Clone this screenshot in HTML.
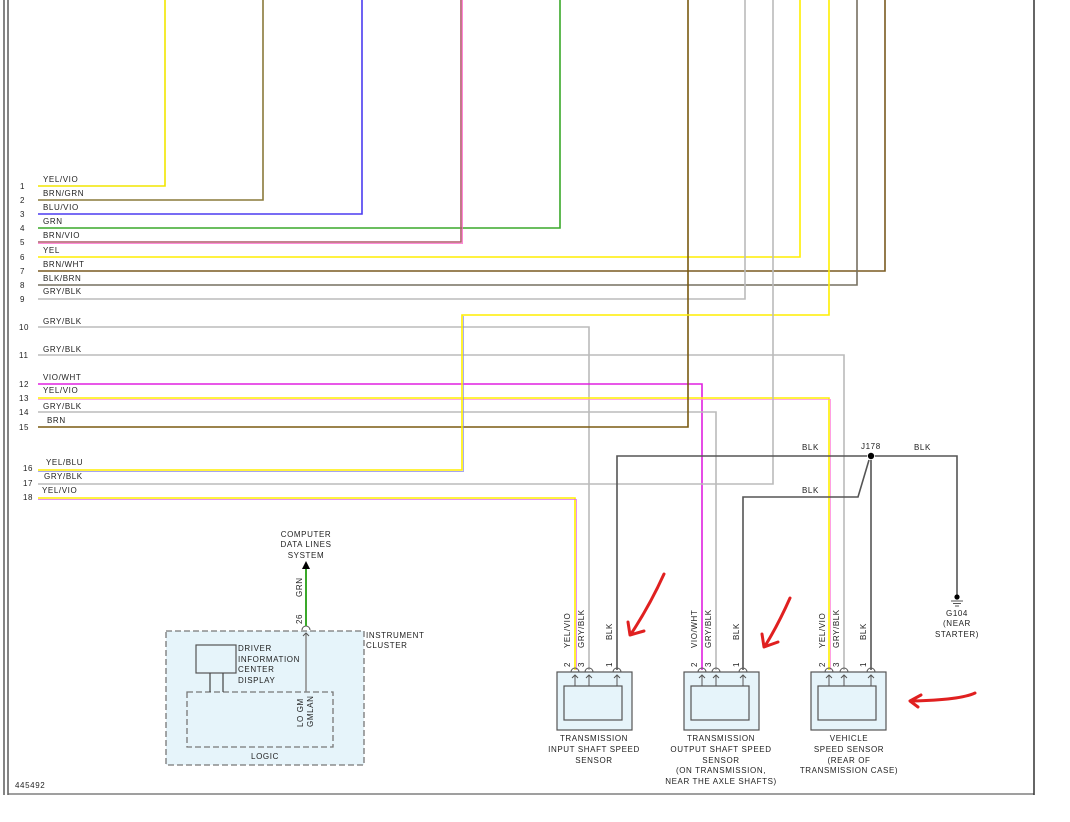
<!DOCTYPE html>
<html><head><meta charset="utf-8"><style>
html,body{margin:0;padding:0;background:#fff;}
svg{display:block;}
text{font-family:"Liberation Sans",sans-serif;font-size:8px;fill:#222;letter-spacing:0.6px;}
</style></head><body>
<svg width="1070" height="822" viewBox="0 0 1070 822" xmlns="http://www.w3.org/2000/svg">
<!-- borders -->
<line x1="4" y1="0" x2="4" y2="795" stroke="#333" stroke-width="1.2"/>
<line x1="8" y1="0" x2="8" y2="795" stroke="#333" stroke-width="1.2"/>
<line x1="8" y1="794" x2="1034" y2="794" stroke="#666" stroke-width="1.2"/>
<line x1="1034" y1="0" x2="1034" y2="795" stroke="#333" stroke-width="1.5"/>

<g fill="none" stroke-width="1.6">
<!-- 1 -->
<polyline points="38,186 165,186 165,0" stroke="#f2e600"/>
<!-- 2 -->
<polyline points="38,200 263,200 263,0" stroke="#8a7a3a"/>
<!-- 3 -->
<polyline points="38,214 362,214 362,0" stroke="#4b3cf0"/>
<!-- 4 -->
<polyline points="38,228 560,228 560,0" stroke="#3aa82a"/>
<!-- 5 -->
<polyline points="38,242 461,242 461,0" stroke="#b05a6a"/>
<polyline points="38,243.5 462.5,243.5 462.5,0" stroke="#ff66cc" stroke-width="0.8"/>
<!-- 6 -->
<polyline points="38,257 800,257 800,0" stroke="#ffee00"/>
<!-- 7 -->
<polyline points="38,271 885,271 885,0" stroke="#7a5a20"/>
<!-- 8 -->
<polyline points="38,285 857,285 857,0" stroke="#777060"/>
<!-- 9 -->
<polyline points="38,299 745,299 745,0" stroke="#bbbbbb"/>
<!-- 10 -->
<polyline points="38,327 589,327 589,670" stroke="#bbbbbb"/>
<!-- 11 -->
<polyline points="38,355 844,355 844,670" stroke="#bbbbbb"/>
<!-- 12 -->
<polyline points="38,384 702,384 702,670" stroke="#e020e0"/>
<!-- 13 -->
<polyline points="38,398 829,398 829,670" stroke="#ffee00"/>
<polyline points="38,399.5 830.5,399.5 830.5,670" stroke="#ff88dd" stroke-width="0.8"/>
<!-- 14 -->
<polyline points="38,412 716,412 716,670" stroke="#bbbbbb"/>
<!-- 15 -->
<polyline points="38,427 688,427 688,0" stroke="#7a5a10"/>
<!-- 16 -->
<polyline points="38,470 462,470 462,315 829,315 829,0" stroke="#ffee00"/>
<polyline points="38,471.5 463.5,471.5 463.5,316" stroke="#8888ee" stroke-width="0.7"/>
<!-- 17 -->
<polyline points="38,484 773,484 773,0" stroke="#bbbbbb"/>
<!-- 18 -->
<polyline points="38,498 575,498 575,670" stroke="#ffee00"/>
<polyline points="38,499.5 576.5,499.5 576.5,670" stroke="#dd66ee" stroke-width="0.7"/>
<!-- BLK -->
<polyline points="617,670 617,456 867,456" stroke="#555"/>
<polyline points="875,456 957,456 957,595" stroke="#555"/>
<polyline points="869,460 858,497 743,497 743,670" stroke="#555"/>
<line x1="871" y1="460" x2="871" y2="670" stroke="#555"/>
</g>
<circle cx="871" cy="456" r="3.2" fill="#000"/>
<text x="861" y="449">J178</text>
<text x="802" y="450">BLK</text>
<text x="914" y="450">BLK</text>
<text x="802" y="493">BLK</text>

<!-- ground -->
<circle cx="957" cy="597" r="2.6" fill="#000"/>
<line x1="951" y1="601" x2="963" y2="601" stroke="#555"/>
<line x1="953" y1="603.5" x2="961" y2="603.5" stroke="#555"/>
<line x1="955" y1="606" x2="959" y2="606" stroke="#555"/>
<text x="957" y="616" text-anchor="middle">G104</text>
<text x="957" y="626" text-anchor="middle">(NEAR</text>
<text x="957" y="637" text-anchor="middle">STARTER)</text>

<!-- wire labels -->
<g>
<text x="43" y="182">YEL/VIO</text><text x="20" y="189">1</text>
<text x="43" y="196">BRN/GRN</text><text x="20" y="203">2</text>
<text x="43" y="210">BLU/VIO</text><text x="20" y="217">3</text>
<text x="43" y="224">GRN</text><text x="20" y="231">4</text>
<text x="43" y="238">BRN/VIO</text><text x="20" y="245">5</text>
<text x="43" y="253">YEL</text><text x="20" y="260">6</text>
<text x="43" y="267">BRN/WHT</text><text x="20" y="274">7</text>
<text x="43" y="281">BLK/BRN</text><text x="20" y="288">8</text>
<text x="43" y="294">GRY/BLK</text><text x="20" y="302">9</text>
<text x="43" y="324">GRY/BLK</text><text x="19" y="330">10</text>
<text x="43" y="352">GRY/BLK</text><text x="19" y="358">11</text>
<text x="43" y="380">VIO/WHT</text><text x="19" y="387">12</text>
<text x="43" y="393">YEL/VIO</text><text x="19" y="401">13</text>
<text x="43" y="409">GRY/BLK</text><text x="19" y="415">14</text>
<text x="47" y="423">BRN</text><text x="19" y="430">15</text>
<text x="46" y="465">YEL/BLU</text><text x="23" y="471">16</text>
<text x="44" y="479">GRY/BLK</text><text x="23" y="486">17</text>
<text x="42" y="493">YEL/VIO</text><text x="23" y="500">18</text>
</g>
<text x="15" y="788">445492</text>

<!-- sensors -->
<g id="s1">
<rect x="557" y="672" width="75" height="58" fill="#e6f4fa" stroke="#555" stroke-width="1.2"/>
<rect x="564" y="686" width="58" height="34" fill="#e6f4fa" stroke="#555" stroke-width="1.2"/>
</g>
<rect x="684" y="672" width="75" height="58" fill="#e6f4fa" stroke="#555" stroke-width="1.2"/>
<rect x="691" y="686" width="58" height="34" fill="#e6f4fa" stroke="#555" stroke-width="1.2"/>
<rect x="811" y="672" width="75" height="58" fill="#e6f4fa" stroke="#555" stroke-width="1.2"/>
<rect x="818" y="686" width="58" height="34" fill="#e6f4fa" stroke="#555" stroke-width="1.2"/>
<g fill="none" stroke="#555" stroke-width="1">
<path d="M571,672 a4,4 0 0 1 8,0 M585,672 a4,4 0 0 1 8,0 M613,672 a4,4 0 0 1 8,0"/>
<path d="M575,686 V675 M572,678 l3,-3 3,3 M589,686 V675 M586,678 l3,-3 3,3 M617,686 V675 M614,678 l3,-3 3,3"/>
<path d="M698,672 a4,4 0 0 1 8,0 M712,672 a4,4 0 0 1 8,0 M739,672 a4,4 0 0 1 8,0"/>
<path d="M702,686 V675 M699,678 l3,-3 3,3 M716,686 V675 M713,678 l3,-3 3,3 M743,686 V675 M740,678 l3,-3 3,3"/>
<path d="M825,672 a4,4 0 0 1 8,0 M840,672 a4,4 0 0 1 8,0 M867,672 a4,4 0 0 1 8,0"/>
<path d="M829,686 V675 M826,678 l3,-3 3,3 M844,686 V675 M841,678 l3,-3 3,3 M871,686 V675 M868,678 l3,-3 3,3"/>
</g>
<!-- vertical labels -->
<g>
<text transform="translate(570,648) rotate(-90)">YEL/VIO</text>
<text transform="translate(584,648) rotate(-90)">GRY/BLK</text>
<text transform="translate(612,640) rotate(-90)">BLK</text>
<text transform="translate(570,667) rotate(-90)">2</text>
<text transform="translate(584,667) rotate(-90)">3</text>
<text transform="translate(612,667) rotate(-90)">1</text>
<text transform="translate(697,648) rotate(-90)">VIO/WHT</text>
<text transform="translate(711,648) rotate(-90)">GRY/BLK</text>
<text transform="translate(739,640) rotate(-90)">BLK</text>
<text transform="translate(697,667) rotate(-90)">2</text>
<text transform="translate(711,667) rotate(-90)">3</text>
<text transform="translate(739,667) rotate(-90)">1</text>
<text transform="translate(825,648) rotate(-90)">YEL/VIO</text>
<text transform="translate(839,648) rotate(-90)">GRY/BLK</text>
<text transform="translate(866,640) rotate(-90)">BLK</text>
<text transform="translate(825,667) rotate(-90)">2</text>
<text transform="translate(839,667) rotate(-90)">3</text>
<text transform="translate(866,667) rotate(-90)">1</text>
</g>
<g text-anchor="middle">
<text x="594" y="741">TRANSMISSION</text>
<text x="594" y="752">INPUT SHAFT SPEED</text>
<text x="594" y="763">SENSOR</text>
<text x="721" y="741">TRANSMISSION</text>
<text x="721" y="752">OUTPUT SHAFT SPEED</text>
<text x="721" y="763">SENSOR</text>
<text x="721" y="773">(ON TRANSMISSION,</text>
<text x="721" y="784">NEAR THE AXLE SHAFTS)</text>
<text x="849" y="741">VEHICLE</text>
<text x="849" y="752">SPEED SENSOR</text>
<text x="849" y="763">(REAR OF</text>
<text x="849" y="773">TRANSMISSION CASE)</text>
</g>

<!-- red annotations -->
<g fill="none" stroke="#e02020" stroke-width="3" stroke-linecap="round" stroke-linejoin="round">
<path d="M664,574 Q650,605 631,634 M628,622 L630,635 L644,631"/>
<path d="M790,598 Q778,625 765,646 M762,634 L764,647 L778,642"/>
<path d="M975,693 Q960,700 912,701 M921,695 L910,701 L918,707"/>
</g>

<!-- instrument cluster -->
<rect x="166" y="631" width="198" height="134" fill="#e6f4fa" stroke="#777" stroke-width="1.3" stroke-dasharray="6,3"/>
<rect x="187" y="692" width="146" height="55" fill="none" stroke="#777" stroke-width="1.3" stroke-dasharray="6,3"/>
<rect x="196" y="645" width="40" height="28" fill="#e6f4fa" stroke="#555" stroke-width="1.2"/>
<line x1="210" y1="673" x2="210" y2="692" stroke="#444" stroke-width="1.2"/>
<line x1="223" y1="673" x2="223" y2="692" stroke="#444" stroke-width="1.2"/>
<line x1="306" y1="692" x2="306" y2="633" stroke="#888" stroke-width="1.5"/>
<path d="M303,636 l3,-3 3,3" fill="none" stroke="#555"/>
<path d="M302,630 a4,4 0 0 1 8,0" fill="none" stroke="#555"/>
<line x1="306" y1="626" x2="306" y2="568" stroke="#3aa82a" stroke-width="2"/>
<polygon points="302,569 310,569 306,561" fill="#000"/>
<text x="238" y="651">DRIVER</text>
<text x="238" y="662">INFORMATION</text>
<text x="238" y="672">CENTER</text>
<text x="238" y="683">DISPLAY</text>
<text x="366" y="638">INSTRUMENT</text>
<text x="366" y="648">CLUSTER</text>
<text x="265" y="759" text-anchor="middle">LOGIC</text>
<text transform="translate(303,727) rotate(-90)">LO GM</text>
<text transform="translate(313,727) rotate(-90)">GMLAN</text>
<text transform="translate(302,597) rotate(-90)">GRN</text>
<text transform="translate(302,624) rotate(-90)">26</text>
<text x="306" y="537" text-anchor="middle">COMPUTER</text>
<text x="306" y="547" text-anchor="middle">DATA LINES</text>
<text x="306" y="558" text-anchor="middle">SYSTEM</text>
</svg>
</body></html>
